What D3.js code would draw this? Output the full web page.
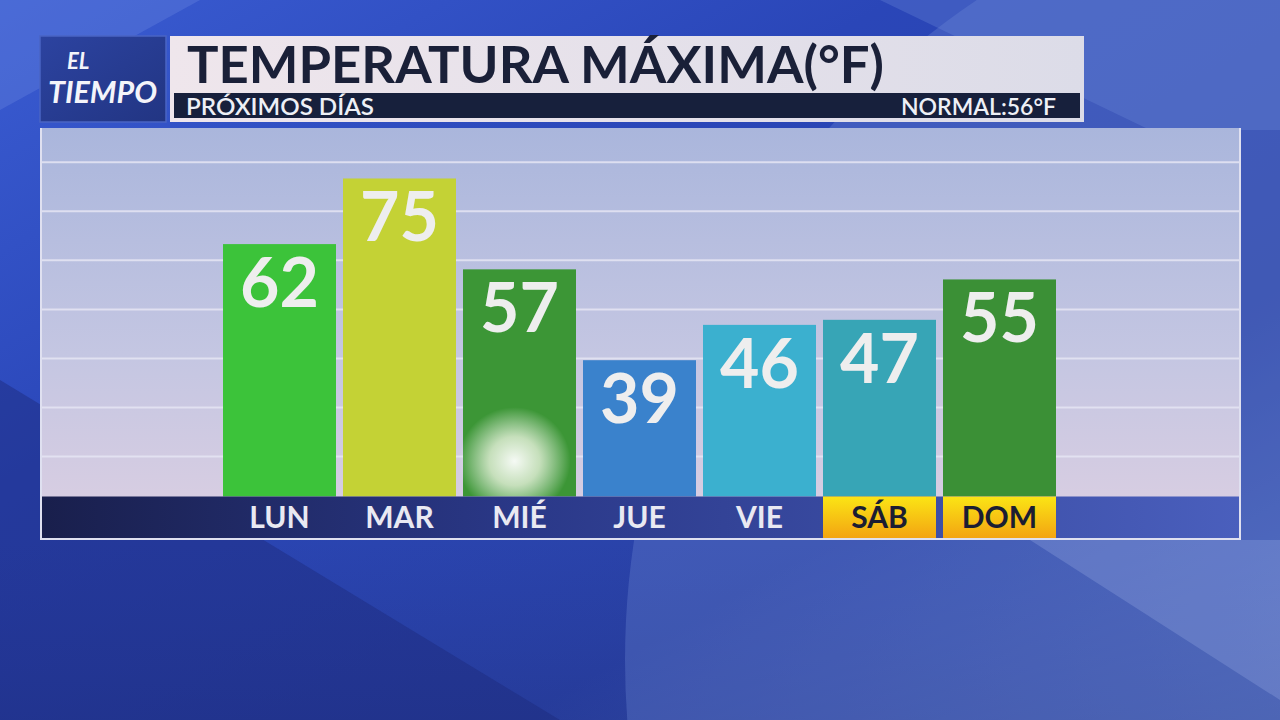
<!DOCTYPE html>
<html>
<head>
<meta charset="utf-8">
<script src="https://cdn.jsdelivr.net/npm/d3@7"></script>
<style>
html,body{margin:0;padding:0;background:#2a46b0;}
svg{display:block;}
</style>
</head>
<body>
<svg id="chart" width="1280" height="720"></svg>
<script>
// ---- data ----
const days = ["LUN", "MAR", "MIÉ", "JUE", "VIE", "SÁB", "DOM"];
const maxTemps = [62, 75, 57, 39, 46, 47, 55];
const barColors = ["#3cc33a", "#c4d235", "#3c9636", "#3a82cc", "#3bb0cf", "#37a5b6", "#3b9036"];
const weekendDays = ["SÁB", "DOM"];
const titleText = "TEMPERATURA MÁXIMA(°F)";
const subtitleText = "PRÓXIMOS DÍAS";
const normalText = "NORMAL:56°F";
const logoLines = ["EL", "TIEMPO"];

const svg = d3.select("#chart");
const defs = svg.append("defs");

function linGrad(id, x1, y1, x2, y2, stops) {
  const g = defs.append("linearGradient").attr("id", id)
    .attr("x1", x1).attr("y1", y1).attr("x2", x2).attr("y2", y2);
  stops.forEach(s => g.append("stop").attr("offset", s[0]).attr("stop-color", s[1]).attr("stop-opacity", s[2] == null ? 1 : s[2]));
  return g;
}

// ---- background ----
linGrad("bgGrad", "0", "0", "1", "1", [[0, "#3a5cd2"], [0.35, "#2a46b8"], [0.7, "#2a42a6"], [1, "#4a64b8"]]);
linGrad("bgDark", "0", "0", "0", "1", [[0, "#1d2c86", 0], [1, "#1a2878", 0.9]]);
linGrad("panelGrad", "0", "0", "0", "1", [[0, "#aab6dc"], [0.55, "#c4c6e2"], [1, "#dccfe2"]]);
linGrad("bandGrad", "0", "0", "1", "0", [[0, "#191f4c"], [0.4, "#2a3888"], [1, "#4a5fbd"]]);
linGrad("wkGrad", "0", "0", "0", "1", [[0, "#fbe515"], [1, "#f3a412"]]);
linGrad("titleGrad", "0", "0", "1", "0", [[0, "#efe6ec"], [1, "#dcdce8"]]);
linGrad("logoGrad", "0", "0", "1", "1", [[0, "#2c43a0"], [1, "#223583"]]);
const glow = defs.append("radialGradient").attr("id", "glow");
glow.append("stop").attr("offset", 0).attr("stop-color", "#ffffff").attr("stop-opacity", 0.95);
glow.append("stop").attr("offset", 0.45).attr("stop-color", "#f4f8e8").attr("stop-opacity", 0.75);
glow.append("stop").attr("offset", 1).attr("stop-color", "#ffffff").attr("stop-opacity", 0);

svg.append("rect").attr("width", 1280).attr("height", 720).attr("fill", "url(#bgGrad)");
// darker lower-left sweep
svg.append("path").attr("d", "M0,380 L560,720 L0,720 Z").attr("fill", "#1e2c80").attr("opacity", 0.5);
svg.append("path").attr("d", "M0,540 L1280,540 L1280,720 L0,720 Z").attr("fill", "url(#bgDark)").attr("opacity", 0.3);
// large lighter disc on the lower right (edge near x=625)
svg.append("circle").attr("cx", 1420).attr("cy", 660).attr("r", 795).attr("fill", "#7590d8").attr("opacity", 0.3);
// light diagonal band at right
svg.append("path").attr("d", "M1030,540 L1280,540 L1280,700 Z").attr("fill", "#a0b4ea").attr("opacity", 0.28);
// top light corners
svg.append("path").attr("d", "M0,0 L200,0 L0,110 Z").attr("fill", "#6a88e0").attr("opacity", 0.35);
svg.append("path").attr("d", "M880,0 L1280,0 L1280,130 L1150,130 Z").attr("fill", "#7090dc").attr("opacity", 0.3);

// ---- chart panel ----
const panel = {x0: 40, x1: 1241, y0: 128, y1: 540};
svg.append("rect").attr("x", panel.x0).attr("y", panel.y0)
  .attr("width", panel.x1 - panel.x0).attr("height", panel.y1 - panel.y0)
  .attr("fill", "#dfe0f0");
svg.append("rect").attr("x", panel.x0 + 2).attr("y", panel.y0)
  .attr("width", panel.x1 - panel.x0 - 4).attr("height", panel.y1 - panel.y0 - 2)
  .attr("fill", "url(#panelGrad)");

// scales
const x = d3.scaleBand().domain(days).range([219.5, 1059.5]).paddingInner(7 / 120).paddingOuter(3.5 / 120);
const y = d3.scaleLinear().domain([12, 85]).range([496.5, 128]);

// gridlines (decorative, evenly spaced)
const gridVals = d3.range(7).map(i => 19.9 + i * 9.72);
svg.append("g").selectAll("line").data(gridVals).join("line")
  .attr("x1", panel.x0 + 2).attr("x2", panel.x1 - 2)
  .attr("y1", d => y(d)).attr("y2", d => y(d))
  .attr("stroke", "#e6e6f4").attr("stroke-width", 2).attr("opacity", 0.85);

// bars
const rows = days.map((d, i) => ({day: d, v: maxTemps[i], c: barColors[i]}));
svg.append("g").selectAll("rect").data(rows).join("rect")
  .attr("x", d => x(d.day)).attr("width", x.bandwidth())
  .attr("y", d => y(d.v)).attr("height", d => y(12) - y(d.v))
  .attr("fill", d => d.c);

// glare on MIÉ
svg.append("ellipse").attr("cx", x("MIÉ") + x.bandwidth() / 2 - 5).attr("cy", y(19)).attr("rx", 56).attr("ry", 54)
  .attr("fill", "url(#glow)");

// value labels
svg.append("g").selectAll("text").data(rows).join("text")
  .attr("x", d => x(d.day) + x.bandwidth() / 2)
  .attr("y", d => y(d.v) + 63)
  .attr("text-anchor", "middle")
  .attr("font-family", "Lato, 'Open Sans', sans-serif")
  .attr("font-weight", 700).attr("font-size", 68)
  .attr("fill", "#eeeeee")
  .text(d => d.v);

// axis band
svg.append("rect").attr("x", panel.x0 + 2).attr("y", 496.5).attr("width", panel.x1 - panel.x0 - 4).attr("height", 41.5)
  .attr("fill", "url(#bandGrad)");
svg.append("g").selectAll("rect").data(weekendDays).join("rect")
  .attr("x", d => x(d)).attr("width", x.bandwidth()).attr("y", 496.5).attr("height", 41.5)
  .attr("fill", "url(#wkGrad)");

const xAxis = d3.axisBottom(x).tickSize(0).tickPadding(0);
const axG = svg.append("g").attr("transform", "translate(0,528)").call(xAxis);
axG.select(".domain").remove();
axG.selectAll("text")
  .attr("y", 0).attr("dy", 0)
  .attr("font-family", "Lato, 'Open Sans', sans-serif")
  .attr("font-weight", 700).attr("font-size", 30)
  .attr("fill", d => weekendDays.includes(d) ? "#1b1d32" : "#e9e9f2");

// ---- header ----
// logo
svg.append("rect").attr("x", 40).attr("y", 36).attr("width", 126).attr("height", 86).attr("fill", "url(#logoGrad)");
svg.append("rect").attr("x", 40).attr("y", 36).attr("width", 126).attr("height", 86).attr("fill", "none")
  .attr("stroke", "#4a64c4").attr("stroke-width", 1.5);
svg.append("text").attr("x", 67).attr("y", 69)
  .attr("font-family", "Lato, sans-serif").attr("font-style", "italic").attr("font-weight", 700)
  .attr("font-size", 22).attr("fill", "#f4f4fa").text(logoLines[0]);
svg.append("text").attr("x", 48).attr("y", 103)
  .attr("font-family", "Lato, sans-serif").attr("font-style", "italic").attr("font-weight", 700)
  .attr("font-size", 30).attr("fill", "#f4f4fa")
  .attr("textLength", 109).attr("lengthAdjust", "spacingAndGlyphs").text(logoLines[1]);

// title box
svg.append("rect").attr("x", 170).attr("y", 36).attr("width", 914).attr("height", 86).attr("fill", "url(#titleGrad)");
svg.append("rect").attr("x", 174).attr("y", 93).attr("width", 906).attr("height", 25).attr("fill", "#17203c");
svg.append("text").attr("x", 187).attr("y", 83)
  .attr("font-family", "Lato, sans-serif").attr("font-weight", 700).attr("font-size", 51)
  .attr("fill", "#1a2038")
  .attr("textLength", 697).attr("lengthAdjust", "spacingAndGlyphs")
  .text(titleText);
svg.append("text").attr("x", 186).attr("y", 115)
  .attr("font-family", "Lato, sans-serif").attr("font-weight", 600).attr("font-size", 23)
  .attr("fill", "#eef0f6")
  .attr("textLength", 188).attr("lengthAdjust", "spacingAndGlyphs")
  .text(subtitleText);
svg.append("text").attr("x", 1056).attr("y", 115).attr("text-anchor", "end")
  .attr("font-family", "Lato, sans-serif").attr("font-weight", 600).attr("font-size", 23)
  .attr("fill", "#eef0f6")
  .text(normalText);
</script>
</body>
</html>
